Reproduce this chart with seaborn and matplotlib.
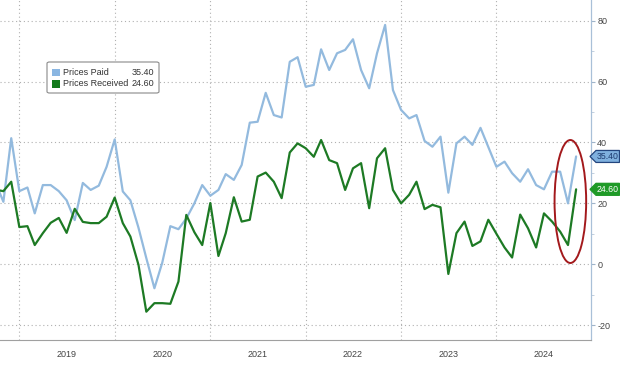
import numpy as np
import pandas as pd
import matplotlib
matplotlib.use("Agg")
import matplotlib.pyplot as plt
import matplotlib.dates as mdates
import matplotlib.transforms as mtransforms
from matplotlib.patches import Ellipse, Polygon, FancyBboxPatch, Rectangle
from matplotlib.ticker import FixedLocator, NullFormatter, FixedFormatter
import seaborn as sns

# ---------------- data (monthly, first month Oct 2018) ----------------
start_month = "2018-10-01"
prices_paid = [27.0, 20.5, 41.4, 24.0, 25.2, 16.7, 26.0, 26.0, 24.0, 21.0, 14.5, 26.7,
               24.4, 25.8, 32.0, 41.0, 23.9, 21.0, 12.0, 2.0, -7.9, 0.5, 12.5, 11.5,
               15.0, 20.0, 26.0, 22.5, 24.4, 29.6, 27.7, 32.6, 46.5, 46.8, 56.3, 49.0,
               48.2, 66.5, 68.0, 58.3, 58.9, 70.6, 63.8, 69.3, 70.4, 73.9, 63.8, 57.8,
               69.3, 78.6, 57.2, 50.7, 47.9, 49.0, 40.5, 38.6, 41.9, 23.5, 39.7, 41.9,
               39.2, 44.8, 38.5, 32.0, 33.7, 29.9, 27.1, 31.2, 26.0, 24.6, 30.4, 30.4,
               20.0, 35.4]
prices_received = [24.5, 24.0, 27.1, 12.2, 12.5, 6.3, 10.2, 13.6, 15.2, 10.3, 18.2, 13.9,
                   13.5, 13.5, 15.6, 21.9, 13.5, 9.1, -0.2, -15.6, -12.8, -12.8, -13.0, -5.7,
                   16.2, 10.5, 6.3, 20.1, 2.7, 10.2, 22.0, 14.0, 14.6, 28.8, 30.1, 27.1,
                   21.7, 36.7, 39.7, 38.1, 35.3, 40.8, 34.2, 33.2, 24.4, 31.5, 33.2, 18.4,
                   34.8, 38.1, 24.4, 20.0, 22.8, 27.1, 18.1, 19.5, 18.7, -3.2, 10.2, 14.0,
                   6.0, 7.5, 14.6, 10.0, 5.5, 2.2, 16.3, 11.8, 5.5, 16.7, 14.0, 10.7,
                   6.3, 24.6]
series_names = ["Prices Paid", "Prices Received"]
series_colors = ["#93bade", "#1d7a24"]
year_labels = ["2019", "2020", "2021", "2022", "2023", "2024"]
y_ticks = [-20, 0, 20, 40, 60, 80]

months = pd.date_range(start_month, periods=len(prices_paid), freq="MS")
df = pd.DataFrame({
    "date": list(months) * 2,
    "value": prices_paid + prices_received,
    "series": [series_names[0]] * len(prices_paid) + [series_names[1]] * len(prices_received),
})

sns.set_style("white")
plt.rcParams["font.family"] = ["Liberation Sans", "DejaVu Sans"]

W, H = 620, 368
fig = plt.figure(figsize=(W / 100, H / 100), dpi=100)
ax = fig.add_axes([0, 1 - 340 / H, 591 / W, 340 / H])

sns.lineplot(data=df, x="date", y="value", hue="series", hue_order=series_names,
             palette=dict(zip(series_names, series_colors)), linewidth=1.6,
             ax=ax, legend=False)

ax.set_xlim(pd.Timestamp("2018-10-19"), pd.Timestamp("2024-12-28"))
ax.set_ylim(-24.9, 86.8)
ax.set_xlabel("")
ax.set_ylabel("")

# x axis: year boundaries (major) and quarters (minor, labels mid-year)
years = [int(y) for y in year_labels]
major = [mdates.date2num(pd.Timestamp(f"{y}-01-01")) for y in years + [years[-1] + 1]]
ax.xaxis.set_major_locator(FixedLocator(major))
ax.xaxis.set_major_formatter(NullFormatter())
minor_pos, minor_lab = [], []
for y in years:
    for mth in (4, 7, 10):
        minor_pos.append(mdates.date2num(pd.Timestamp(f"{y}-{mth:02d}-01")))
        minor_lab.append(str(y) if mth == 7 else "")
ax.xaxis.set_minor_locator(FixedLocator(minor_pos))
ax.xaxis.set_minor_formatter(FixedFormatter(minor_lab))
ax.tick_params(axis="x", which="major", length=16.5, width=0.8, color="#b0b0b0", direction="out")
ax.tick_params(axis="x", which="minor", length=2.5, width=0.8, color="#909090",
               pad=5, labelsize=6.5, labelcolor="#444444")

# y axis on the right
ax.yaxis.tick_right()
ax.set_yticks(y_ticks)
ax.set_yticklabels([str(v) for v in y_ticks])
ax.yaxis.set_minor_locator(FixedLocator([v + 10 for v in y_ticks]))
ax.tick_params(axis="y", which="major", length=3, width=0.8, color="#9fb4c9",
               pad=1.5, labelsize=6.5, labelcolor="#444444")
ax.tick_params(axis="y", which="minor", length=2, width=0.6, color="#b9c9d9")

ax.grid(True, which="major", linestyle=(0, (1, 2.5)), color="#b0b0b0", linewidth=0.8)
for s in ("top", "left"):
    ax.spines[s].set_visible(False)
ax.spines["bottom"].set_color("#a0a0a0")
ax.spines["bottom"].set_linewidth(0.8)
ax.spines["right"].set_color("#a9c0d8")
ax.spines["right"].set_linewidth(0.9)

# red highlight ellipse around the latest readings
ell = Ellipse((mdates.date2num(pd.Timestamp("2024-10-10")), 20.6), width=121, height=40.4,
              fill=False, edgecolor="#a3191c", linewidth=1.4, zorder=5)
ax.add_patch(ell)

# legend box (manual, Bloomberg style)
def fx(px):
    return px / W

def fy(py):
    return 1 - py / H

box = FancyBboxPatch((fx(47), fy(93)), fx(112), 31 / H, boxstyle="round,pad=0,rounding_size=0.004",
                     transform=fig.transFigure, facecolor="white", edgecolor="#8a8a8a",
                     linewidth=0.8, zorder=10)
fig.add_artist(box)
last_vals = [prices_paid[-1], prices_received[-1]]
legend_sq = ["#8ab6e2", "#137a1c"]
for i, (name, val) in enumerate(zip(series_names, last_vals)):
    yc = 72.5 + i * 11.5
    sq = Rectangle((fx(52.5), fy(yc + 3.7)), fx(7.5), 7.5 / H, transform=fig.transFigure,
                   facecolor=legend_sq[i], edgecolor="none", zorder=11)
    fig.add_artist(sq)
    fig.text(fx(63), fy(yc), name, fontsize=6.5, color="#333333", va="center", ha="left", zorder=12)
    fig.text(fx(154.5), fy(yc), f"{val:.2f}", fontsize=6.5, color="#333333", va="center",
             ha="right", zorder=12)

# last-value tags on the right axis
tag_fill = ["#7fb0de", "#1f9a27"]
tag_edge = ["#23457e", "#1f9a27"]
tag_text = ["#1e3c70", "white"]
fig.canvas.draw()
for val, fc, ec, tc in zip(last_vals, tag_fill, tag_edge, tag_text):
    _, ydisp = ax.transData.transform((0, val))
    yc = H - ydisp
    pts = [(590, yc), (596, yc - 6), (619.5, yc - 6), (619.5, yc + 6), (596, yc + 6)]
    poly = Polygon([(fx(a), fy(b)) for a, b in pts], closed=True, transform=fig.transFigure,
                   facecolor=fc, edgecolor=ec, linewidth=0.9, zorder=10)
    fig.add_artist(poly)
    fig.text(fx(607.5), fy(yc), f"{val:.2f}", fontsize=6.3, color=tc, ha="center",
             va="center", zorder=11)

fig.savefig("out.png", dpi=100)
